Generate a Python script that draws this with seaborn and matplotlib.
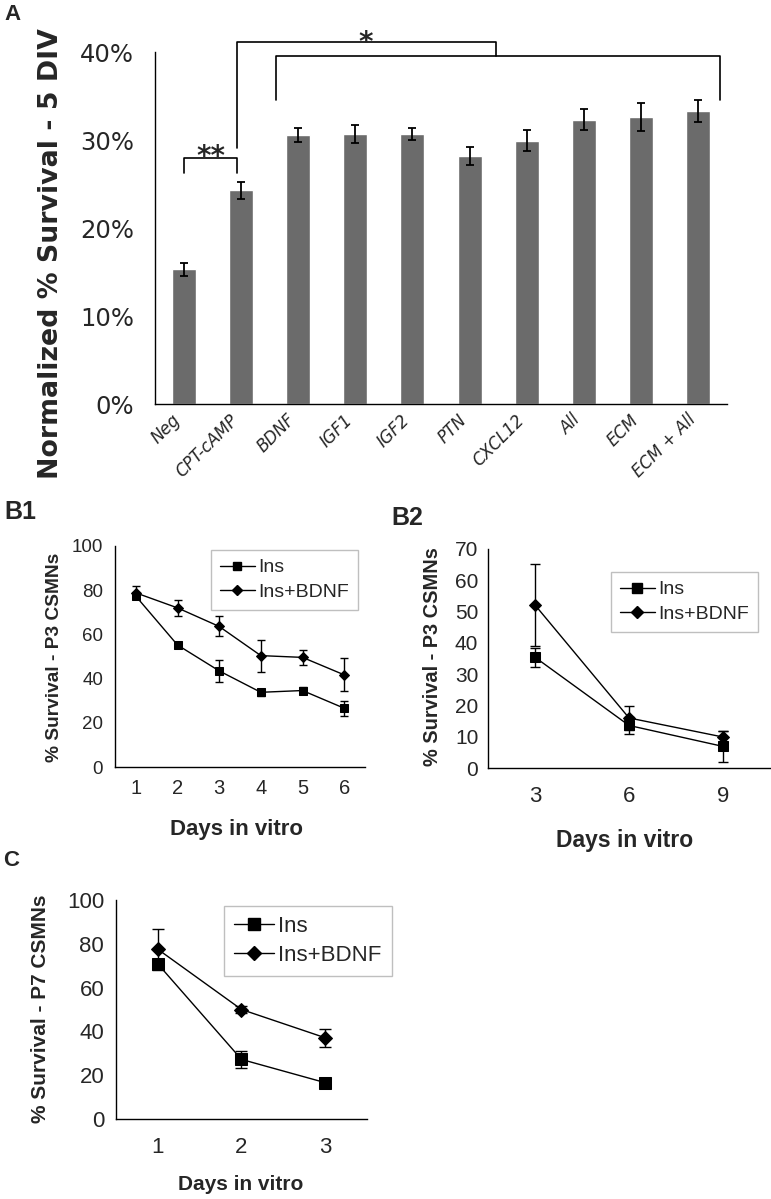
import numpy as np
import matplotlib
matplotlib.use('Agg')
import matplotlib.pyplot as plt
import matplotlib.transforms as mtrans
from matplotlib.lines import Line2D
import seaborn as sns

# ---- data ----
# panel A: normalized % survival after 5 DIV
a_labels = ['Neg', 'CPT-cAMP', 'BDNF', 'IGF1', 'IGF2', 'PTN', 'CXCL12', 'All', 'ECM', 'ECM + All']
a_mean = [15.3, 24.3, 30.6, 30.7, 30.7, 28.2, 29.9, 32.3, 32.6, 33.3]
a_err = [0.75, 0.95, 0.8, 1.0, 0.7, 1.0, 1.2, 1.2, 1.6, 1.3]

# panel B1: P3 CSMNs, days 1-6
b1_days = ['1', '2', '3', '4', '5', '6']
b1_ins = [77.3, 55.2, 43.5, 33.8, 34.6, 26.6]
b1_ins_err = [1.5, 1.5, 5.0, 1.5, 1.5, 3.3]
b1_bdnf = [78.8, 72.0, 63.6, 50.4, 49.6, 41.7]
b1_bdnf_err = [3.0, 3.5, 4.5, 7.2, 3.5, 7.4]

# panel B2: P3 CSMNs, days 3/6/9
b2_days = ['3', '6', '9']
b2_ins = [35.4, 13.6, 6.9]
b2_ins_err = [3.0, 2.8, 4.9]
b2_bdnf = [52.1, 16.0, 9.9]
b2_bdnf_err = [13.0, 3.9, 2.0]

# panel C: P7 CSMNs, days 1-3
c_days = ['1', '2', '3']
c_ins = [70.8, 27.2, 16.6]
c_ins_err = [1.0, 4.0, 1.0]
c_bdnf = [77.5, 50.0, 37.1]
c_bdnf_err = [9.3, 1.5, 4.2]

sns.set_style('white')
plt.rcParams['font.family'] = ['Liberation Sans', 'DejaVu Sans']

fig = plt.figure(figsize=(7.71, 11.99), dpi=100)
W, H = 771, 1199


def add_ax(x0, y0, x1, y1):
    # pixel box (top-left origin) -> figure axes
    return fig.add_axes([x0 / W, 1 - y1 / H, (x1 - x0) / W, (y1 - y0) / H])


def cat_ticks(ax, labels, size, pad, **kw):
    n = len(labels)
    ax.set_xlim(-0.5, n - 0.5)
    ax.set_xticks(np.arange(-0.5, n), labels=[])
    ax.set_xticks(np.arange(n), labels=labels, minor=True, fontsize=size, **kw)
    ax.tick_params(axis='x', which='major', direction='out', length=5, width=1, color='black')
    ax.tick_params(axis='x', which='minor', length=0, pad=pad)
    ax.tick_params(axis='y', direction='out', length=5, width=1, color='black')
    sns.despine(ax=ax)
    for s in ['left', 'bottom']:
        ax.spines[s].set_color('black')
        ax.spines[s].set_linewidth(1)


def place_labels(ax, ylab, ysize, ypos, xlab=None, xsize=None, xpos=None):
    ax.set_ylabel(ylab, fontsize=ysize, fontweight='bold')
    ax.yaxis.label.set_va('center')
    ax.yaxis.set_label_coords(*ypos)
    if xlab:
        ax.set_xlabel(xlab, fontsize=xsize, fontweight='bold')
        ax.xaxis.label.set_va('center')
        ax.xaxis.set_label_coords(*xpos)


# ---- panel A ----
axA = add_ax(155, 52, 727, 404)
sns.barplot(x=a_labels, y=a_mean, color='#6b6b6b', width=0.42, saturation=1,
            errorbar=None, ax=axA)
axA.errorbar(np.arange(len(a_labels)), a_mean, yerr=a_err, fmt='none',
             ecolor='black', elinewidth=1.3, capsize=3, capthick=1.3)
axA.set_ylim(0, 40)
axA.set_yticks([0, 10, 20, 30, 40], labels=['0%', '10%', '20%', '30%', '40%'],
               fontsize=17.5, family='DejaVu Sans')
cat_ticks(axA, a_labels, 12, 5, rotation=45, ha='right', va='top',
          rotation_mode='anchor', family='DejaVu Sans', style='italic')
axA.tick_params(axis='y', pad=10)
shift = mtrans.ScaledTranslation(-12 / 100, 0, fig.dpi_scale_trans)
for lab in axA.get_xticklabels(minor=True):
    lab.set_transform(lab.get_transform() + shift)
axA.set_ylabel('Normalized % Survival - 5 DIV', fontsize=19.3, fontweight='bold',
               family='DejaVu Sans')
axA.yaxis.label.set_va('center')
axA.yaxis.set_label_coords((51 - 155) / 572, (404 - 254) / 352)

# significance brackets
bk = dict(color='black', lw=1.2, clip_on=False)
axA.plot([0, 0, 0.94, 0.94], [26.3, 27.9, 27.9, 26.3], **bk)
axA.text(0.47, 27.2, '**', ha='center', va='baseline', fontsize=20,
         fontweight='bold', family='DejaVu Sans')
axA.plot([0.94, 0.94, 5.47, 5.47], [29.1, 41.1, 41.1, 39.6], **bk)
axA.plot([1.62, 1.62, 9.38, 9.38], [34.6, 39.6, 39.6, 34.6], **bk)
axA.text(3.18, 40.1, '*', ha='center', va='baseline', fontsize=20,
         fontweight='bold', family='DejaVu Sans')


def line_panel(ax, days, ins, ins_err, bdnf, bdnf_err, ms_sq, ms_dm, cap):
    x = np.arange(len(days))
    for vals, err, mk, ms in [(ins, ins_err, 's', ms_sq), (bdnf, bdnf_err, 'D', ms_dm)]:
        sns.pointplot(x=days, y=vals, color='black', markers=mk, linestyles='-',
                      errorbar=None, ax=ax, markersize=ms, linewidth=1)
        ax.errorbar(x, vals, yerr=err, fmt='none', ecolor='black',
                    elinewidth=1, capsize=cap, capthick=1)


def legend(ax, loc, fs, ms_sq, ms_dm):
    h = [Line2D([], [], color='black', lw=1, marker='s', markersize=ms_sq),
         Line2D([], [], color='black', lw=1, marker='D', markersize=ms_dm)]
    lg = ax.legend(h, ['Ins', 'Ins+BDNF'], loc='upper left', bbox_to_anchor=loc,
                   borderaxespad=0, fontsize=fs, frameon=True, fancybox=False,
                   handlelength=1.8, handletextpad=0.2, borderpad=0.45,
                   labelspacing=0.35)
    lg.get_frame().set_edgecolor('#b0b0b0')
    lg.get_frame().set_linewidth(1)


# ---- panel B1 ----
axB1 = add_ax(115, 546, 365, 767)
line_panel(axB1, b1_days, b1_ins, b1_ins_err, b1_bdnf, b1_bdnf_err, 6, 5.5, 3)
axB1.set_ylim(0, 100)
axB1.set_yticks([0, 20, 40, 60, 80, 100], labels=['0', '20', '40', '60', '80', '100'], fontsize=13.5)
cat_ticks(axB1, b1_days, 14.5, 9)
place_labels(axB1, '% Survival - P3 CSMNs', 13.8, ((55 - 115) / 250, 0.498),
             'Days in vitro', 16, (0.488, (767 - 829) / 221))
legend(axB1, ((211 - 115) / 250, (767 - 550) / 221), 14, 6, 5.5)

# ---- panel B2 ----
axB2 = add_ax(488, 549, 770, 768)
line_panel(axB2, b2_days, b2_ins, b2_ins_err, b2_bdnf, b2_bdnf_err, 6.5, 6, 3.5)
axB2.set_ylim(0, 70)
axB2.set_yticks(range(0, 71, 10), labels=[str(v) for v in range(0, 71, 10)], fontsize=15)
axB2.tick_params(axis='y', pad=2)
cat_ticks(axB2, b2_days, 16, 13)
place_labels(axB2, '% Survival - P3 CSMNs', 14.4, ((432 - 488) / 282, 0.507),
             'Days in vitro', 16.5, (0.486, (768 - 840) / 219))
legend(axB2, ((611 - 488) / 282, (768 - 572) / 219), 14, 6.5, 6)

# ---- panel C ----
axC = add_ax(116, 900, 367, 1119)
line_panel(axC, c_days, c_ins, c_ins_err, c_bdnf, c_bdnf_err, 8, 7.5, 4)
axC.set_ylim(0, 100)
axC.set_yticks([0, 20, 40, 60, 80, 100], labels=['0', '20', '40', '60', '80', '100'], fontsize=16)
cat_ticks(axC, c_days, 16, 13)
place_labels(axC, '% Survival - P7 CSMNs', 15, ((41 - 116) / 251, 0.502),
             'Days in vitro', 15, (0.498, (1119 - 1184) / 219))
legend(axC, ((224 - 116) / 251, (1119 - 906) / 219), 16, 8, 7.5)

# panel letters
fig.text(4 / W, 1 - 15 / H, 'A', fontsize=16, fontweight='bold', va='center')
fig.text(4 / W, 1 - 512 / H, 'B1', fontsize=18, fontweight='bold', va='center')
fig.text(391 / W, 1 - 518 / H, 'B2', fontsize=18, fontweight='bold', va='center')
fig.text(3 / W, 1 - 861 / H, 'C', fontsize=16, fontweight='bold', va='center')

fig.savefig('out.png', dpi=100)
